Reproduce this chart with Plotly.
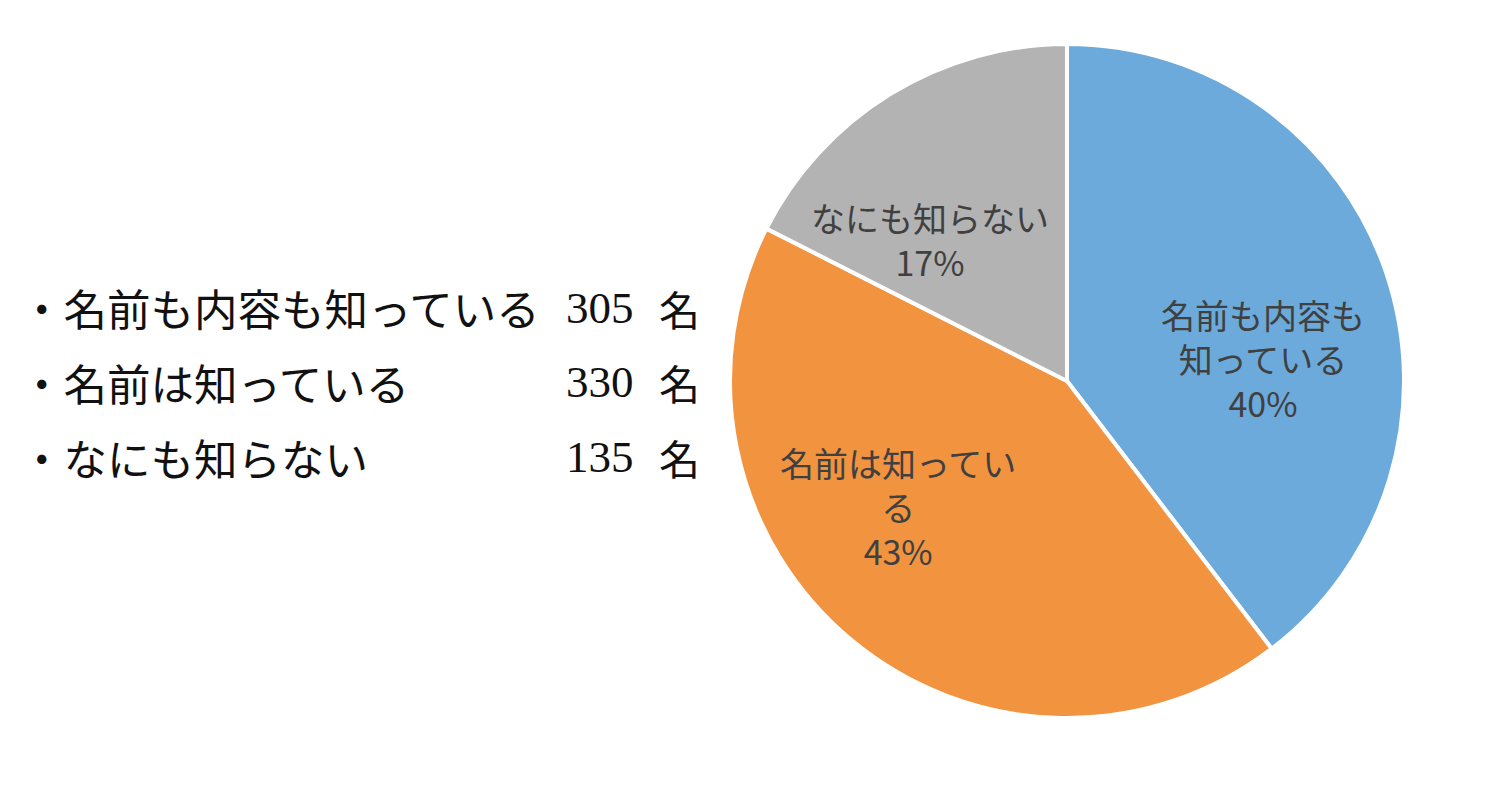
import plotly.graph_objects as go

# ---- data ----
categories = ["名前も内容も知っている", "名前は知っている", "なにも知らない"]
pie_labels = ["名前も内容も<br>知っている", "名前は知ってい<br>る", "なにも知らない"]
counts = [305, 330, 135]
pct_labels = ["40%", "43%", "17%"]
unit = "名"

# ---- styles / layout ----
W, H = 1494, 788
colors = ["#6BAADB", "#F29340", "#B3B3B3"]
label_color = "#404040"

# pie bounding box in pixels
cx, cy, r = 1067, 381, 337

def px(x):
    return x / W

def py(y):
    return 1 - y / H

fig = go.Figure()
fig.add_trace(go.Pie(
    labels=categories,
    values=counts,
    sort=False,
    direction="clockwise",
    rotation=0,
    marker=dict(colors=colors, line=dict(color="white", width=4)),
    textinfo="none",
    hoverinfo="label+value+percent",
    showlegend=False,
    domain=dict(x=[px(cx - r), px(cx + r)], y=[py(cy + r), py(cy - r)]),
))

# in-slice label block centres (pixels)
label_x = [1263, 898, 930]
label_y = [358, 506, 239]

annotations = []
for lab, pct, lx, ly in zip(pie_labels, pct_labels, label_x, label_y):
    annotations.append(dict(
        x=px(lx), y=py(ly), xref="paper", yref="paper",
        text=lab + "<br>" + pct, showarrow=False,
        xanchor="center", yanchor="middle", align="center",
        font=dict(family="Noto Sans CJK JP", size=34, color=label_color),
    ))

# left-hand list
row_y = [308, 382, 457]
for cat, n, ry in zip(categories, counts, row_y):
    annotations.append(dict(
        x=px(18), y=py(ry), xref="paper", yref="paper",
        text="・" + cat, showarrow=False, xanchor="left", yanchor="middle",
        font=dict(family="Noto Sans CJK JP", size=43.5, color="#111111"),
    ))
    annotations.append(dict(
        x=px(564), y=py(ry), xref="paper", yref="paper",
        text=str(n), showarrow=False, xanchor="left", yanchor="middle",
        font=dict(family="Liberation Serif", size=45, color="#111111"),
    ))
    annotations.append(dict(
        x=px(657), y=py(ry), xref="paper", yref="paper",
        text=unit, showarrow=False, xanchor="left", yanchor="middle",
        font=dict(family="Noto Sans CJK JP", size=41, color="#111111"),
    ))

fig.update_layout(
    width=W, height=H,
    margin=dict(l=0, r=0, t=0, b=0),
    paper_bgcolor="white",
    plot_bgcolor="white",
    annotations=annotations,
)

fig.write_html("out.html", config={"displayModeBar": False},
               post_script="document.body.style.margin='0';")
